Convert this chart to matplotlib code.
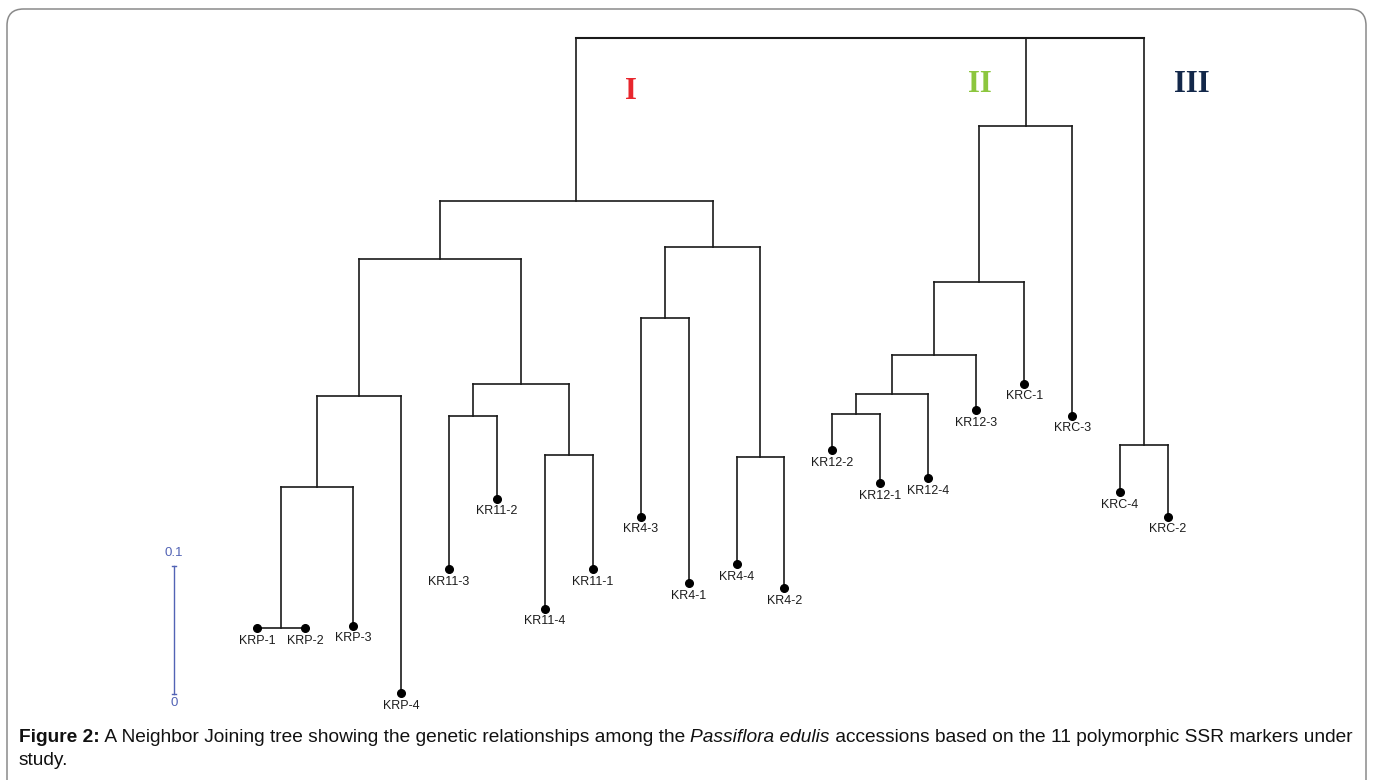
import matplotlib
matplotlib.use("Agg")
import matplotlib.pyplot as plt
from matplotlib.patches import FancyBboxPatch

# ---------------- data ----------------
leaf_names = ['KRP-1', 'KRP-2', 'KRP-3', 'KRP-4', 'KR11-3', 'KR11-2', 'KR11-4', 'KR11-1',
              'KR4-3', 'KR4-1', 'KR4-4', 'KR4-2', 'KR12-2', 'KR12-1', 'KR12-4', 'KR12-3',
              'KRC-1', 'KRC-3', 'KRC-4', 'KRC-2']
leaf_depth = [0.461, 0.461, 0.459, 0.512, 0.415, 0.360, 0.446, 0.415,
              0.374, 0.426, 0.411, 0.430, 0.322, 0.348, 0.344, 0.291,
              0.270, 0.295, 0.355, 0.374]
# internal nodes (ids continue after the leaves)
node_children = [(0, 1), (20, 2), (21, 3), (4, 5), (6, 7), (23, 24), (22, 25),
                 (8, 9), (10, 11), (27, 28), (26, 29),
                 (12, 13), (31, 14), (32, 15), (33, 16), (34, 17),
                 (18, 19), (30, 35, 36)]
node_depth = [0.461, 0.351, 0.280, 0.295, 0.326, 0.270, 0.173,
              0.219, 0.327, 0.163, 0.127,
              0.294, 0.278, 0.248, 0.191, 0.069,
              0.318, 0.0]
cluster_labels = ['I', 'II', 'III']
cluster_x = [7.8, 15.08, 19.5]
cluster_depth = [0.042, 0.036, 0.036]
cluster_colors = ['#e8262d', '#8cc63e', '#13284a']
scale_value = 0.1
scale_labels = ['0.1', '0']

# ---------------- figure ----------------
W, H = 1373, 780
fig = plt.figure(figsize=(W / 100, H / 100), dpi=100)
fig.patch.set_facecolor('white')

# rounded border (bottom edge lies below the figure)
border = FancyBboxPatch((7 / W, -0.2), (1366 - 7) / W, (H - 9) / H + 0.2,
                        boxstyle="round,pad=0,rounding_size=0.012",
                        transform=fig.transFigure, fill=False,
                        edgecolor='#8a8a8a', linewidth=1.1,
                        mutation_aspect=W / H)
fig.patches.append(border)

ax = fig.add_axes([0, 0, 1, 1])
ax.set_axis_off()
px_x = 47.95   # pixels per leaf slot
x0 = 257
px_y = 1280    # pixels per unit of distance
y0 = 38
ax.set_xlim(-x0 / px_x, (W - x0) / px_x)
ax.set_ylim((H - y0) / px_y, -y0 / px_y)

n_leaf = len(leaf_names)
xpos = {i: float(i) for i in range(n_leaf)}
ypos = {i: leaf_depth[i] for i in range(n_leaf)}
for k, (ch, d) in enumerate(zip(node_children, node_depth)):
    nid = n_leaf + k
    xs = [xpos[c] for c in ch]
    xpos[nid] = (min(xs) + max(xs)) / 2
    ypos[nid] = d

lc = '#1a1a1a'
lw = 1.2
for k, (ch, d) in enumerate(zip(node_children, node_depth)):
    xs = [xpos[c] for c in ch]
    ax.plot([min(xs), max(xs)], [d, d], color=lc, lw=lw if d > 0 else 1.5,
            solid_capstyle='projecting')
    for c in ch:
        ax.plot([xpos[c], xpos[c]], [d, ypos[c]], color=lc, lw=lw,
                solid_capstyle='projecting')

# leaf tips and names
ax.plot(range(n_leaf), leaf_depth, 'o', color='black', markersize=5.5)
for i, name in enumerate(leaf_names):
    ax.text(i, leaf_depth[i] + 0.0098, name, ha='center', va='center',
            fontsize=9, family='Liberation Sans', color='#1c1c1c')

# cluster labels
for lab, cx, cy, col in zip(cluster_labels, cluster_x, cluster_depth, cluster_colors):
    ax.text(cx, cy, lab, ha='center', va='center', fontsize=22,
            family='Liberation Serif', fontweight='bold', color=col)

# scale bar
sb_x = (174 - x0) / px_x
sb_bottom = 0.5125
sb_top = sb_bottom - scale_value
blue = '#5263b5'
ax.plot([sb_x, sb_x], [sb_top, sb_bottom], color=blue, lw=1.0)
cap = 2.2 / px_x
for yy in (sb_top, sb_bottom):
    ax.plot([sb_x - cap, sb_x + cap], [yy, yy], color=blue, lw=1.0)
ax.text(sb_x, sb_top - 0.010, scale_labels[0], ha='center', va='center',
        fontsize=9.5, family='Liberation Sans', color=blue)
ax.text(sb_x, sb_bottom + 0.007, scale_labels[1], ha='center', va='center',
        fontsize=9.5, family='Liberation Sans', color=blue)

# caption with mixed styles
fig.canvas.draw()
renderer = fig.canvas.get_renderer()
cap_fs = 13.8
pieces = [("Figure 2:", 'bold', 'normal'),
          (" A Neighbor Joining tree showing the genetic relationships among the ", 'normal', 'normal'),
          ("Passiflora edulis", 'normal', 'italic'),
          (" accessions based on the 11 polymorphic SSR markers under", 'normal', 'normal')]
xc = 19
yb = H - 742
for txt, wt, st in pieces:
    t = fig.text(xc / W, yb / H, txt, fontsize=cap_fs, family='Liberation Sans',
                 fontweight=wt, fontstyle=st, color='#111111', va='baseline', ha='left')
    bb = t.get_window_extent(renderer)
    xc += bb.width
fig.text(19 / W, (H - 765) / H, "study.", fontsize=cap_fs, family='Liberation Sans',
         color='#111111', va='baseline', ha='left')

fig.savefig('out.png', dpi=100, facecolor='white')
